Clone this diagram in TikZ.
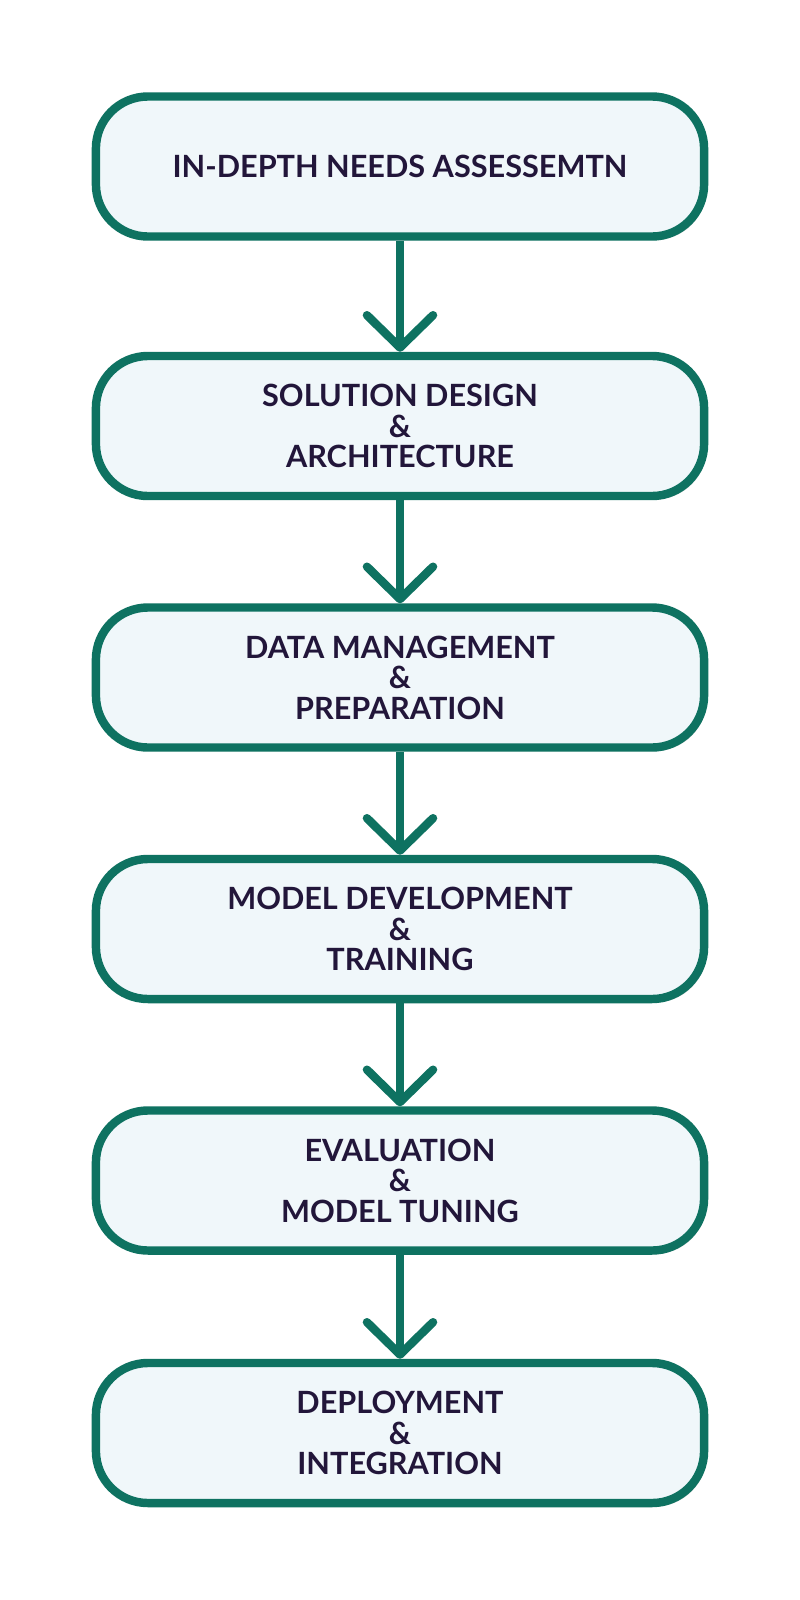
\documentclass[tikz,border=0pt]{standalone}
\usepackage{fontspec}
\setmainfont{Lato}
\usetikzlibrary{arrows.meta,shadows}
\definecolor{stepline}{RGB}{14,114,97}
\definecolor{stepfill}{RGB}{240,247,250}
\definecolor{steptext}{RGB}{34,22,58}
\pgfdeclarelayer{bg}
\pgfsetlayers{bg,main}
\tikzset{stepbox/.style={draw=stepline, fill=stepfill, line width=6pt,
    rounded corners=1.3cm, minimum width=15.2cm, minimum height=3.5cm,
    align=center, text=steptext, font=\fontsize{21.8}{21.7}\selectfont\bfseries,
    drop shadow={shadow xshift=2pt, shadow yshift=-2.5pt, opacity=0.18, fill=black}},
    flow/.style={draw=stepline, line width=6pt,
    -{Straight Barb[length=23pt, width=47pt, round]}}}

\begin{document}
\begin{tikzpicture}[x=0.025cm, y=-0.025cm]
    \useasboundingbox (0,0) rectangle (800,1600);

    \node (needs) [stepbox] at (400, 166.5) {IN-DEPTH NEEDS ASSESSEMTN};
    \node (design) [stepbox] at (400, 426) {SOLUTION DESIGN\\\&\\ARCHITECTURE};
    \node (data) [stepbox] at (400, 677.5) {DATA MANAGEMENT\\\&\\PREPARATION};
    \node (model) [stepbox] at (400, 929) {MODEL DEVELOPMENT\\\&\\TRAINING};
    \node (eval) [stepbox] at (400, 1180.5) {EVALUATION\\\&\\MODEL TUNING};
    \node (deploy) [stepbox] at (400, 1433) {DEPLOYMENT\\\&\\INTEGRATION};

    \begin{pgfonlayer}{bg}
        \draw [flow] (needs) -- (design);
        \draw [flow] (design) -- (data);
        \draw [flow] (data) -- (model);
        \draw [flow] (model) -- (eval);
        \draw [flow] (eval) -- (deploy);
    \end{pgfonlayer}
\end{tikzpicture}
\end{document}
